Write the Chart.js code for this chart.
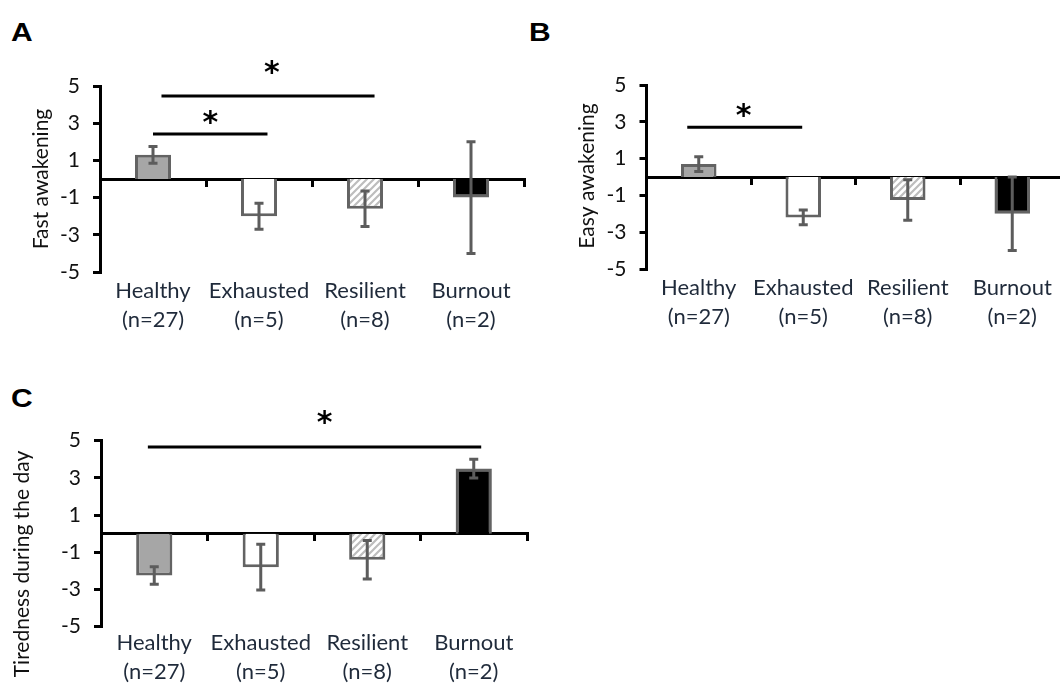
<!DOCTYPE html>
<html>
<head>
<meta charset="utf-8">
<script src="https://cdn.jsdelivr.net/npm/chart.js@4.4.0/dist/chart.umd.min.js"></script>
<style>
  html, body { margin: 0; padding: 0; background: #fff; width: 1060px; height: 684px; overflow: hidden; }
  .panel { position: absolute; }
  .letter { position: absolute; font: bold 25px "Liberation Sans", Arial, sans-serif; line-height: 25px; color: #000;
            transform: scaleX(1.2); transform-origin: left top; }
</style>
</head>
<body>
<div class="letter" style="left:11px;top:20px">A</div>
<div class="letter" style="left:529px;top:20px">B</div>
<div class="letter" style="left:11px;top:386px">C</div>

<div class="panel" style="left:0;top:0"><canvas id="chartA" width="540" height="340"></canvas></div>
<div class="panel" style="left:530px;top:0"><canvas id="chartB" width="540" height="340"></canvas></div>
<div class="panel" style="left:0;top:370px"><canvas id="chartC" width="540" height="314"></canvas></div>

<script>
// Sleep / tiredness scores by group – three bar panels with SEM error bars

// ----- data -----
const groups = ['Healthy', 'Exhausted', 'Resilient', 'Burnout'];
const groupN = ['(n=27)', '(n=5)', '(n=8)', '(n=2)'];
const yTicks = [-5, -3, -1, 1, 3, 5];

const fastAwakening    = [1.3, -2.0, -1.6, -1.0];
const fastAwakeningErr = [0.45, 0.7, 0.95, 3.0];

const easyAwakening    = [0.7, -2.2, -1.25, -2.0];
const easyAwakeningErr = [0.4, 0.4, 1.1, 2.0];

const tiredness    = [-2.25, -1.8, -1.4, 3.5];
const tirednessErr = [0.47, 1.23, 1.03, 0.5];

// significance brackets: from/to in category units, y in data units, star position
const sigA = [
  { from: 0, to: 1.08, y: 2.42, starAt: 0.54, starY: 3.3 },
  { from: 0.08, to: 2.09, y: 4.46, starAt: 1.12, starY: 6.0 }
];
const sigB = [
  { from: -0.11, to: 0.99, y: 2.7, starAt: 0.43, starY: 3.64 }
];
const sigC = [
  { from: -0.06, to: 3.07, y: 4.66, starAt: 1.6, starY: 6.24 }
];

// -------- helpers --------
const FONT = 'Lato, "Open Sans", sans-serif';

function hatchPattern() {
  const c = document.createElement('canvas');
  c.width = 7; c.height = 7;
  const g = c.getContext('2d');
  g.fillStyle = '#fff';
  g.fillRect(0, 0, 7, 7);
  g.strokeStyle = '#bdbdbd';
  g.lineWidth = 2.2;
  g.beginPath();
  g.moveTo(0, 7); g.lineTo(7, 0);
  g.moveTo(-1, 1); g.lineTo(1, -1);
  g.moveTo(6, 8); g.lineTo(8, 6);
  g.stroke();
  return g.createPattern(c, 'repeat');
}

const barFills = ['#a6a6a6', '#ffffff', hatchPattern(), '#000000'];

const errorBars = {
  id: 'errorBars',
  afterDatasetsDraw(chart, args, opts) {
    const { ctx } = chart;
    const y = chart.scales.y;
    const meta = chart.getDatasetMeta(0);
    const vals = chart.data.datasets[0].data;
    ctx.save();
    ctx.strokeStyle = '#5c5c5c';
    ctx.lineWidth = 3;
    const cap = 4.5;
    opts.errors.forEach((e, i) => {
      const px = meta.data[i].x;
      const top = y.getPixelForValue(vals[i] + e);
      const bot = y.getPixelForValue(vals[i] - e);
      ctx.beginPath();
      ctx.moveTo(px, top); ctx.lineTo(px, bot);
      ctx.moveTo(px - cap, top); ctx.lineTo(px + cap, top);
      ctx.moveTo(px - cap, bot); ctx.lineTo(px + cap, bot);
      ctx.stroke();
    });
    ctx.restore();
  }
};

const sigMarks = {
  id: 'sigMarks',
  afterDraw(chart, args, opts) {
    const { ctx } = chart;
    const x = chart.scales.x, y = chart.scales.y;
    ctx.save();
    ctx.strokeStyle = '#000';
    ctx.lineWidth = 3;
    ctx.fillStyle = '#000';
    ctx.font = 'bold 30px "DejaVu Sans", sans-serif';
    ctx.textAlign = 'center';
    ctx.textBaseline = 'alphabetic';
    opts.marks.forEach(m => {
      const py = y.getPixelForValue(m.y);
      ctx.beginPath();
      ctx.moveTo(x.getPixelForValue(m.from), py);
      ctx.lineTo(x.getPixelForValue(m.to), py);
      ctx.stroke();
      const tm = ctx.measureText('*');
      const off = (tm.actualBoundingBoxAscent - tm.actualBoundingBoxDescent) / 2;
      ctx.fillText('*', x.getPixelForValue(m.starAt), y.getPixelForValue(m.starY) + off);
    });
    ctx.restore();
  }
};

const sideTitle = {
  id: 'sideTitle',
  afterDraw(chart, args, opts) {
    const { ctx } = chart;
    ctx.save();
    ctx.translate(opts.x, opts.y);
    ctx.rotate(-Math.PI / 2);
    ctx.font = '21px ' + FONT;
    ctx.fillStyle = '#111';
    ctx.textAlign = 'center';
    ctx.textBaseline = 'middle';
    ctx.fillText(opts.text, 0, 0);
    ctx.restore();
  }
};

function makePanel(id, values, errors, marks, title, box) {
  const canvas = document.getElementById(id);
  const W = canvas.width, H = canvas.height;
  return new Chart(canvas.getContext('2d'), {
    type: 'bar',
    data: {
      labels: groups,
      datasets: [{
        data: values,
        backgroundColor: barFills,
        borderColor: '#636363',
        borderWidth: 3,
        barPercentage: 0.34,
        categoryPercentage: 1
      }]
    },
    options: {
      responsive: false,
      animation: false,
      events: [],
      layout: { padding: { top: box.top, right: W - box.right, left: 0, bottom: 0 } },
      scales: {
        x: {
          type: 'category',
          position: { y: 0 },
          offset: true,
          z: 1,
          grid: { display: true, drawOnChartArea: false, offset: true, tickLength: 6, lineWidth: 3, color: '#000' },
          border: { display: true, width: 3, color: '#000' },
          ticks: { display: false }
        },
        x2: {
          type: 'category',
          labels: groups.map((g, i) => [g, groupN[i]]),
          position: 'bottom',
          offset: true,
          grid: { display: false, drawTicks: false },
          border: { display: false },
          ticks: {
            autoSkip: false, maxRotation: 0, padding: box.labelPad,
            color: '#1f2a3a',
            font: { family: FONT, size: 22, lineHeight: '29px' }
          },
          afterFit: s => { s.height = H - box.bottom; }
        },
        y: {
          min: -5, max: 5,
          grid: { display: true, drawOnChartArea: false, tickLength: 7, lineWidth: 3, color: '#000' },
          border: { display: true, width: 3, color: '#000' },
          ticks: { color: '#111', padding: 13, font: { family: FONT, size: 21 } },
          afterBuildTicks: s => { s.ticks = yTicks.map(v => ({ value: v })); },
          afterFit: s => { s.width = box.left; }
        }
      },
      plugins: {
        legend: { display: false },
        tooltip: { enabled: false },
        errorBars: { errors },
        sigMarks: { marks },
        sideTitle: { text: title, x: box.titleX, y: box.titleY }
      }
    },
    plugins: [errorBars, sigMarks, sideTitle]
  });
}

makePanel('chartA', fastAwakening, fastAwakeningErr, sigA, 'Fast awakening',
  { left: 100, right: 524, top: 86, bottom: 272, labelPad: 4, titleX: 41, titleY: 179 });
makePanel('chartB', easyAwakening, easyAwakeningErr, sigB, 'Easy awakening',
  { left: 116.5, right: 534.5, top: 85, bottom: 269, labelPad: 4, titleX: 57, titleY: 176 });
makePanel('chartC', tiredness, tirednessErr, sigC, 'Tiredness during the day',
  { left: 101, right: 527, top: 70.7, bottom: 256.7, labelPad: 2, titleX: 22, titleY: 194 });
</script>
</body>
</html>
